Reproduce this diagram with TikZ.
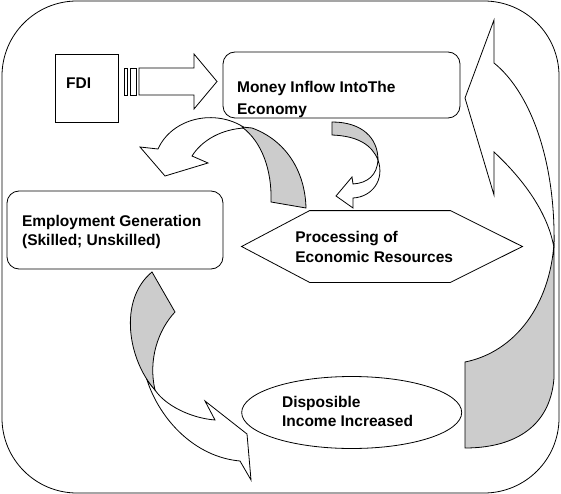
\documentclass[tikz,border=0pt]{standalone}
\usepackage{fontspec}
\setmainfont{Liberation Sans}
\usetikzlibrary{positioning, shapes.geometric, calc}
\tikzset{
    outerframe/.style={draw, rounded corners=75pt, minimum width=557pt, minimum height=492pt, inner sep=0pt},
    plainbox/.style={draw, inner sep=0pt},
    roundbox/.style={draw, rounded corners=12pt, inner sep=0pt},
    hexarea/.style={inner sep=0pt, minimum width=280pt, minimum height=71pt},
    ovalbox/.style={draw, ellipse, inner sep=0pt},
    lbl/.style={anchor=north west, inner sep=0pt, align=left, font=\bfseries\fontsize{15.5}{20}\selectfont},
    blockarrow/.style={draw, fill=white, line join=miter},
    backface/.style={draw, fill=black!20},
}

\begin{document}
\begin{tikzpicture}[x=1pt, y=-1pt, line width=0.8pt]
        \useasboundingbox (0,0) rectangle (561,494);
        \node[outerframe] (frame) at (280.5,247) {};
        \node[plainbox, minimum width=63pt, minimum height=68pt] (fdi) at (86.5,88) {};
        \node[roundbox, minimum width=237pt, minimum height=66pt] (money) at (341.5,85) {};
        \node[roundbox, minimum width=216pt, minimum height=78pt] (employ) at (115,230) {};
        \node[hexarea] (process) at (382,246.5) {};
        \draw (process.west) -- ([xshift=68pt]process.north west) -- ([xshift=-72pt]process.north east) -- (process.east)
            -- ([xshift=-72pt]process.south east) -- ([xshift=68pt]process.south west) -- cycle;
        \node[ovalbox, minimum width=220pt, minimum height=72pt] (income) at (351.7,412.5) {};
        % texts
        \node[lbl] (fdilbl) at (65.7,77.8) {FDI};
        \node[lbl, font=\bfseries\fontsize{15.5}{22}\selectfont] (moneylbl) at (236.7,80.5) {Money Inflow IntoThe\\Economy};
        \node[lbl, font=\bfseries\fontsize{15.5}{19.5}\selectfont] (employlbl) at (21.7,214.8) {Employment Generation\\(Skilled; Unskilled)};
        \node[lbl, font=\bfseries\fontsize{15.5}{20.6}\selectfont] (processlbl) at (295,230.5) {Processing of\\Economic Resources};
        \node[lbl, font=\bfseries\fontsize{15.5}{19.4}\selectfont] (incomelbl) at (281.7,395.5) {Disposible\\Income Increased};
        % FDI -> money
        \draw[blockarrow] (124,68) rectangle (127.7,95);
        \draw[blockarrow] (130,68) rectangle (136.7,95);
        \draw[blockarrow] (139,68) -- (194,68) -- (194,54) -- (217,81.5) -- (194,109) -- (194,95) -- (139,95) -- cycle;
        % money -> employ
        \draw[blockarrow] (245,128) .. controls (215,108) and (172,118) .. (158,149) -- (140,147) -- (165,176) -- (208,163) -- (192,156) .. controls (202,140) and (222,129) .. (245,128) -- cycle;
        \draw[backface] (242,127) -- (252,128) .. controls (285,140) and (305,170) .. (306,208) -- (271,202) .. controls (272,170) and (262,142) .. (242,127) -- cycle;
        % money -> process
        \draw[backface] (332,122) .. controls (362,122) and (378,138) .. (378,160) .. controls (372,145) and (358,136) .. (332,135) -- cycle;
        \draw[blockarrow] (378,160) .. controls (377,175) and (368,183) .. (353,184) -- (352,177) -- (336,196) -- (353,208) -- (353,198) .. controls (372,197) and (385,180) .. (378,160) -- cycle;
        % employ -> income
        \draw[blockarrow] (147,380) .. controls (160,420) and (195,457) .. (240,461) -- (251,480) -- (247,434) -- (205,401) -- (215,420) .. controls (190,418) and (165,405) .. (155,390) -- cycle;
        \draw[backface] (152,272) -- (175,312) .. controls (158,330) and (148,360) .. (155,390) .. controls (128,360) and (118,300) .. (152,272) -- cycle;
        % income -> money
        \draw[blockarrow] (494,63) -- (494,20) -- (465,98) -- (494,195) -- (494,152) .. controls (522,178) and (548,212) .. (554,248) .. controls (556,160) and (530,92) .. (494,63) -- cycle;
        \draw[backface] (554,243) -- (554,378) .. controls (550,430) and (510,448) .. (465,448) -- (465,362) .. controls (515,352) and (550,305) .. (554,243) -- cycle;
\end{tikzpicture}
\end{document}
